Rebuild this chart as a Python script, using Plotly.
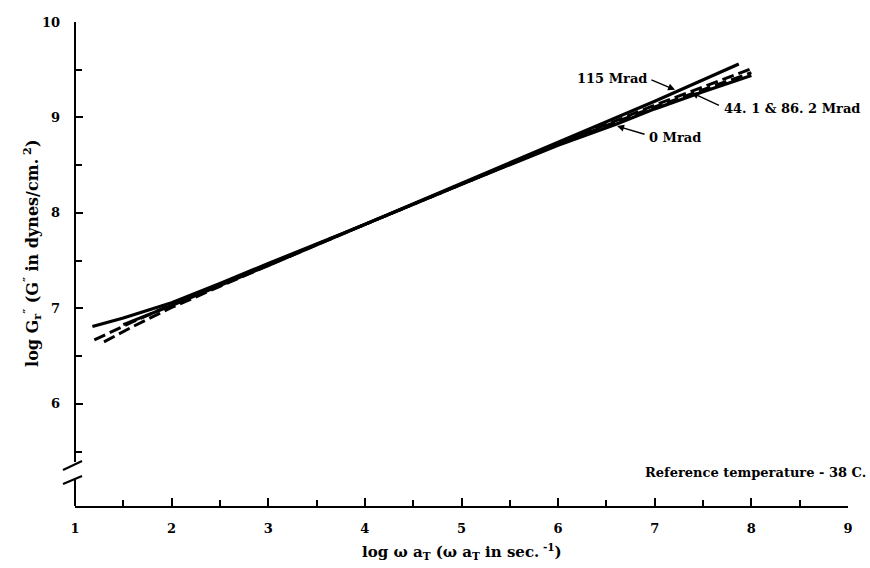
import plotly.graph_objects as go

# ---- data ----
x_0 = [1.18, 1.5, 2.0, 2.5, 3.0, 4.0, 5.0, 6.0, 6.6, 7.0, 7.5, 8.0]
y_0 = [6.81, 6.90, 7.06, 7.26, 7.47, 7.88, 8.30, 8.71, 8.93, 9.09, 9.27, 9.44]

x_44 = [1.2, 1.6, 2.0, 3.0, 4.0, 5.0, 6.0, 7.0, 8.0]
y_44 = [6.67, 6.86, 7.04, 7.46, 7.88, 8.30, 8.72, 9.13, 9.51]

x_86 = [1.3, 1.6, 2.0, 3.0, 4.0, 5.0, 6.0, 7.0, 8.0]
y_86 = [6.65, 6.81, 7.01, 7.45, 7.88, 8.30, 8.72, 9.11, 9.47]

x_115 = [1.5, 2.0, 3.0, 4.0, 5.0, 6.0, 7.0, 7.87]
y_115 = [6.83, 7.03, 7.45, 7.88, 8.31, 8.74, 9.17, 9.56]

x_ticks = [1, 2, 3, 4, 5, 6, 7, 8, 9]
x_minor = [1.5, 2.5, 3.5, 4.5, 5.5, 6.5, 7.5, 8.5]
y_ticks = [6, 7, 8, 9, 10]
y_minor = [5.5, 6.5, 7.5, 8.5, 9.5]

FONT = "DejaVu Serif"
fig = go.Figure()

fig.add_trace(go.Scatter(x=x_86, y=y_86, mode="lines",
                         line=dict(color="black", width=3, dash="12px,5px")))
fig.add_trace(go.Scatter(x=x_44, y=y_44, mode="lines",
                         line=dict(color="black", width=3, dash="12px,5px")))
fig.add_trace(go.Scatter(x=x_115, y=y_115, mode="lines",
                         line=dict(color="black", width=3.2)))
fig.add_trace(go.Scatter(x=x_0, y=y_0, mode="lines",
                         line=dict(color="black", width=3.2)))

tf = dict(family=FONT, size=13, color="black", weight="bold")

fig.update_xaxes(range=[1, 9], tickvals=x_ticks, ticks="inside", ticklen=8,
                 tickwidth=1.5, tickcolor="black", showline=True, linecolor="black",
                 linewidth=2, showgrid=False, zeroline=False, tickfont=tf,
                 ticklabelstandoff=9,
                 minor=dict(tickvals=x_minor, ticks="inside", ticklen=6,
                            tickwidth=1.5, tickcolor="black", showgrid=False))
fig.update_yaxes(range=[4.93, 10], tickvals=y_ticks, ticks="inside", ticklen=8,
                 tickwidth=1.5, tickcolor="black", showline=False,
                 showgrid=False, zeroline=False, tickfont=tf,
                 ticklabelstandoff=14,
                 minor=dict(tickvals=y_minor, ticks="inside", ticklen=7,
                            tickwidth=1.5, tickcolor="black", showgrid=False))

# y-axis line with break
shapes = [
    dict(type="line", xref="paper", yref="paper", x0=0, x1=0, y0=0.0909, y1=1,
         line=dict(color="black", width=2)),
    dict(type="line", xref="paper", yref="paper", x0=0, x1=0, y0=0, y1=0.0579,
         line=dict(color="black", width=2)),
    dict(type="line", xref="paper", yref="paper", x0=-0.0155, x1=0.0091,
         y0=0.0744, y1=0.0930, line=dict(color="black", width=2)),
    dict(type="line", xref="paper", yref="paper", x0=-0.0155, x1=0.0091,
         y0=0.0455, y1=0.0620, line=dict(color="black", width=2)),
]

af = dict(family=FONT, size=13, color="black", weight="bold")
tfont = dict(family=FONT, size=15, color="black", weight="bold")
yfont = dict(family=FONT, size=16, color="black", weight="bold")
annotations = [
    # arrows
    dict(x=7.21, y=9.29, ax=6.95, ay=9.40, axref="x", ayref="y", text="",
         showarrow=True, arrowhead=2, arrowsize=1, arrowwidth=1.4, arrowcolor="black"),
    dict(x=7.38, y=9.26, ax=7.68, ay=9.12, axref="x", ayref="y", text="",
         showarrow=True, arrowhead=2, arrowsize=1, arrowwidth=1.4, arrowcolor="black"),
    dict(x=6.61, y=8.91, ax=6.91, ay=8.82, axref="x", ayref="y", text="",
         showarrow=True, arrowhead=2, arrowsize=1, arrowwidth=1.4, arrowcolor="black"),
    # labels
    dict(x=6.94, y=9.41, text="115 Mrad", showarrow=False, xanchor="right",
         yanchor="middle", font=af),
    dict(x=7.70, y=9.09, text="44. 1 & 86. 2 Mrad", showarrow=False, xanchor="left",
         yanchor="middle", font=af),
    dict(x=6.92, y=8.785, text="0 Mrad", showarrow=False, xanchor="left",
         yanchor="middle", font=af),
    dict(x=1.026, y=0.0702, xref="paper", yref="paper",
         text="Reference temperature - 38 C.", showarrow=False, xanchor="right",
         yanchor="middle", font=af),
    # axis titles
    dict(x=0.5006, y=-0.093, xref="paper", yref="paper",
         text="log ω a<sub>T</sub> (ω a<sub>T</sub> in sec.<sup> -1</sup>)",
         showarrow=False, xanchor="center", yanchor="middle", font=tfont),
    dict(x=-0.0555, y=0.521, xref="paper", yref="paper", textangle=-90,
         text="log G<sub>r</sub><sup>″</sup> (G<sup>″</sup> in dynes/cm.<sup> 2</sup>)",
         showarrow=False, xanchor="center", yanchor="middle", font=yfont),
]

fig.update_layout(width=870, height=568, margin=dict(l=75, r=22, t=22, b=62),
                  paper_bgcolor="white", plot_bgcolor="white", showlegend=False,
                  shapes=shapes, annotations=annotations,
                  font=dict(family=FONT, color="black"))

fig.write_html("out.html")
